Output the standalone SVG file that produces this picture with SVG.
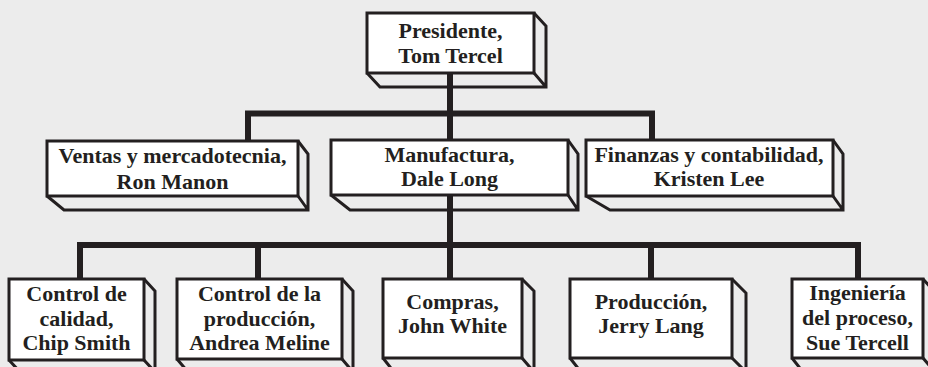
<svg xmlns="http://www.w3.org/2000/svg" width="928" height="367" viewBox="0 0 928 367">
  <style>
    .face { fill: #ffffff; stroke: #231f20; stroke-width: 3; }
    .depth { fill: none; stroke: #231f20; stroke-width: 3; stroke-linejoin: miter; }
    .wire { fill: none; stroke: #231f20; stroke-width: 6; stroke-linejoin: miter; stroke-linecap: butt; }
    text { font-family: "Liberation Serif", "Times New Roman", serif; font-weight: bold; font-size: 22px; fill: #231f20; text-anchor: middle; }
  </style>
  <rect width="928" height="367" fill="#ececec"/>

  <!-- connectors -->
  <g id="connectors">
    <path class="wire" d="M450 73 V140"/>
    <path class="wire" d="M248 141 V113.5 H652 V140"/>
    <path class="wire" d="M450 195 V279"/>
    <path class="wire" d="M80 279 V245 H858 V279"/>
    <path class="wire" d="M258 245 V279"/>
    <path class="wire" d="M651 245 V279"/>
  </g>

  <!-- president -->
  <g id="presidente">
    <path class="depth" d="M534 13 L546 26 V87 H380 L367 73 M534 73 L546 87"/>
    <rect class="face" x="367" y="13" width="167" height="60"/>
    <text x="450.5" y="38">Presidente,</text>
    <text x="450.5" y="63">Tom Tercel</text>
  </g>

  <!-- second level -->
  <g id="ventas">
    <path class="depth" d="M298 141 L308 154 V210 H64 L47 196 M298 196 L308 210"/>
    <rect class="face" x="47" y="141" width="251" height="55"/>
    <text x="172.5" y="163">Ventas y mercadotecnia,</text>
    <text x="172.5" y="189">Ron Manon</text>
  </g>
  <g id="manufactura">
    <path class="depth" d="M568 140 L578 154 V210 H350 L331 195 M568 195 L578 210"/>
    <rect class="face" x="331" y="140" width="237" height="55"/>
    <text x="449.5" y="162">Manufactura,</text>
    <text x="449.5" y="186">Dale Long</text>
  </g>
  <g id="finanzas">
    <path class="depth" d="M833 140 L843 154 V210 H610 L586 196 M833 196 L843 210"/>
    <rect class="face" x="586" y="140" width="247" height="56"/>
    <text x="709" y="162">Finanzas y contabilidad,</text>
    <text x="709" y="186">Kristen Lee</text>
  </g>

  <!-- third level -->
  <g id="calidad">
    <path class="depth" d="M144 279 L155 291 V372 H20 L9 360 M144 360 L155 372"/>
    <rect class="face" x="9" y="279" width="135" height="81"/>
    <text x="76.5" y="301">Control de</text>
    <text x="76.5" y="325.5">calidad,</text>
    <text x="76.5" y="350">Chip Smith</text>
  </g>
  <g id="control-produccion">
    <path class="depth" d="M342 279 L353 291 V372 H188 L177 359 M342 359 L353 372"/>
    <rect class="face" x="177" y="279" width="165" height="80"/>
    <text x="259.5" y="301">Control de la</text>
    <text x="259.5" y="325.5">producción,</text>
    <text x="259.5" y="350">Andrea Meline</text>
  </g>
  <g id="compras">
    <path class="depth" d="M522 279 L534 291 V372 H394 L383 358 M522 358 L534 372"/>
    <rect class="face" x="383" y="279" width="139" height="79"/>
    <text x="452.5" y="309">Compras,</text>
    <text x="452.5" y="333">John White</text>
  </g>
  <g id="produccion">
    <path class="depth" d="M732 279 L746 293 V372 H581 L570 358 M732 358 L746 372"/>
    <rect class="face" x="570" y="279" width="162" height="79"/>
    <text x="651" y="309">Producción,</text>
    <text x="651" y="333">Jerry Lang</text>
  </g>
  <g id="ingenieria">
    <path class="depth" d="M923 279 L935 292 V372 H803 L792 358 M923 358 L935 372"/>
    <rect class="face" x="792" y="279" width="131" height="79"/>
    <text x="857.5" y="300">Ingeniería</text>
    <text x="857.5" y="325">del proceso,</text>
    <text x="857.5" y="350">Sue Tercell</text>
  </g>
</svg>
